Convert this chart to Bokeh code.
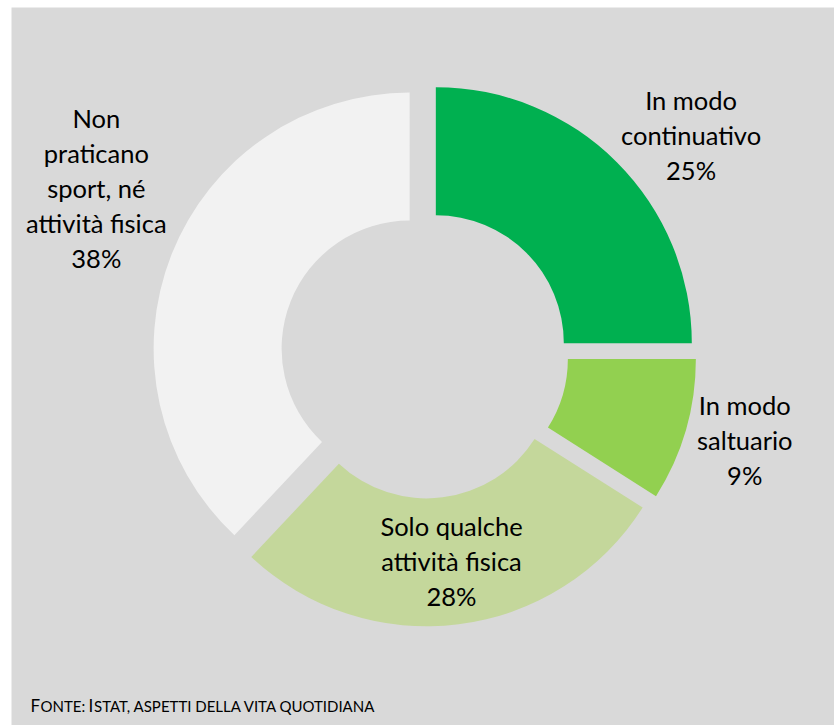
import math
from bokeh.plotting import figure
from bokeh.models import ColumnDataSource, Range1d, BoxAnnotation
from bokeh.core.properties import value
from bokeh.embed import file_html
from bokeh.resources import INLINE

# ---- data ----
categories = ["In modo continuativo", "In modo saltuario", "Solo qualche attività fisica",
              "Non praticano sport, né attività fisica"]
label_texts = ["In modo\ncontinuativo", "In modo\nsaltuario", "Solo qualche\nattività fisica",
               "Non\npraticano\nsport, né\nattività fisica"]
shares = [25, 9, 28, 38]
colors = ["#00B050", "#92D050", "#C4D79B", "#F2F2F2"]

# ---- style / layout ----
W, H = 834, 725
cx, cy = 424, 725 - 354
R_out, R_in = 256, 128
explode = 16
label_r = [344, 332, 210, 367]
label_da = [-5.8, 0.9, 0.2, -5.0]
FONT = "Lato"

total = sum(shares)
xs, ys, starts, ends, lx, ly, txt = [], [], [], [], [], [], []
cum = 0.0
for i, v in enumerate(shares):
    c0 = cum / total
    cum += v
    c1 = cum / total
    a_start = math.radians(90 - 360 * c1)
    a_end = math.radians(90 - 360 * c0)
    mid = (a_start + a_end) / 2
    xs.append(cx + explode * math.cos(mid))
    ys.append(cy + explode * math.sin(mid))
    starts.append(a_start)
    ends.append(a_end)
    la = mid + math.radians(label_da[i])
    lx.append(cx + label_r[i] * math.cos(la))
    ly.append(cy + label_r[i] * math.sin(la))
    txt.append(f"{label_texts[i]}\n{v}%")

src = ColumnDataSource(dict(x=xs, y=ys, start=starts, end=ends, color=colors, cat=categories))
lsrc = ColumnDataSource(dict(x=lx, y=ly, text=txt))

p = figure(width=W, height=H, x_range=Range1d(0, W), y_range=Range1d(0, H),
           output_backend="svg", toolbar_location=None, x_axis_type=None, y_axis_type=None,
           min_border=0, background_fill_color="white", border_fill_color="white")
p.grid.visible = False
p.outline_line_color = None

p.add_layout(BoxAnnotation(left=11, right=W, bottom=0, top=H - 7,
                           fill_color="#D9D9D9", fill_alpha=1, line_color=None, level="underlay"))

p.annular_wedge(x="x", y="y", inner_radius=R_in, outer_radius=R_out,
                start_angle="start", end_angle="end", direction="anticlock",
                fill_color="color", line_color=None, source=src)

p.text(x="x", y="y", text="text", source=lsrc, text_align="center", text_baseline="middle",
       y_offset=-2, text_font=value(FONT), text_font_size="25.5px", text_line_height=1.17,
       text_color="#000000")

# footer in small caps
fy = H - 705
footer_parts = [("F", 30, "17px"), ("ONTE:", 40, "15px"), ("I", 88, "17px"),
                ("STAT, ASPETTI DELLA VITA QUOTIDIANA", 93.5, "15px")]
for t, x0, fs in footer_parts:
    p.text(x=[x0], y=[fy], text=[t], text_font=value(FONT), text_font_size=fs,
           text_baseline="alphabetic", text_align="left", text_color="#000000")

open("out.html", "w").write(file_html(p, INLINE))
